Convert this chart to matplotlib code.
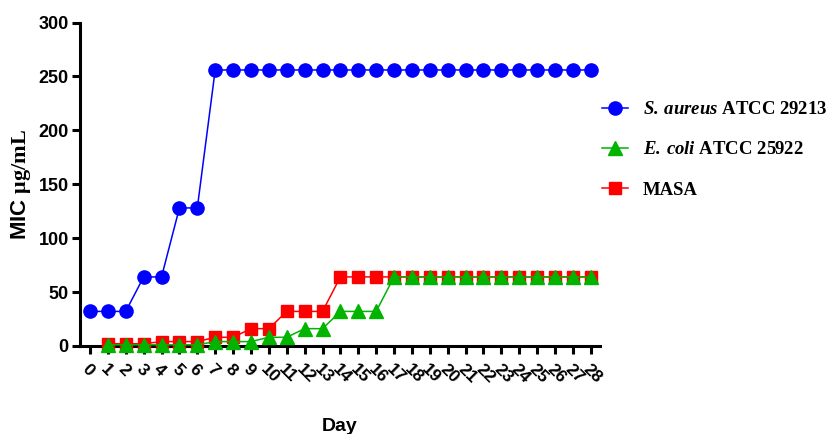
import matplotlib
matplotlib.use("Agg")
import matplotlib.pyplot as plt

days_sa = list(range(0, 29))
mic_sa = [32, 32, 32, 64, 64, 128, 128] + [256] * 22

days_ec = list(range(1, 29))
mic_ec = [1, 1, 1, 1, 1, 1, 4, 4, 4, 8, 8, 16, 16, 32, 32, 32] + [64] * 12

days_masa = list(range(1, 29))
mic_masa = [2, 2, 2, 4, 4, 4, 8, 8, 16, 16, 32, 32, 32] + [64] * 15

xtick_labels = [str(d) for d in range(0, 29)]
yticks = [0, 50, 100, 150, 200, 250, 300]

plt.rcParams['mathtext.fontset'] = 'custom'
plt.rcParams['mathtext.rm'] = 'Liberation Serif'
plt.rcParams['mathtext.bf'] = 'Liberation Serif:bold'
plt.rcParams['mathtext.it'] = 'Liberation Serif:italic'
plt.rcParams['mathtext.bfit'] = 'Liberation Serif:italic:bold'

fig = plt.figure(figsize=(8.33, 4.34), dpi=100)
ax = fig.add_axes([0.096, 0.203, 0.624, 0.745])

ax.plot(days_sa, mic_sa, color='#0000FF', lw=1.1, marker='o', ms=9.5,
        clip_on=False, zorder=3, label=r'$\mathbfit{S.\:aureus}$ ATCC 29213')
ax.plot(days_ec, mic_ec, color='#00B400', lw=1.1, marker='^', ms=10,
        clip_on=False, zorder=5, label=r'$\mathbfit{E.\:coli}$ ATCC 25922')
ax.plot(days_masa, mic_masa, color='#FF0000', lw=1.1, marker='s', ms=9,
        clip_on=False, zorder=4, label='MASA')

ax.set_xlim(-0.56, 28.5)
ax.set_ylim(0, 300)
ax.set_xticks(range(0, 29))
ax.set_xticklabels(xtick_labels, rotation=-45, ha='left', va='top',
                   rotation_mode='anchor', fontsize=12.5, fontweight='bold',
                   family='Liberation Sans')
ax.set_yticks(yticks)
ax.set_yticklabels([str(v) for v in yticks], fontsize=13, fontweight='bold',
                   family='Liberation Sans')

for s in ['top', 'right']:
    ax.spines[s].set_visible(False)
for s in ['left', 'bottom']:
    ax.spines[s].set_linewidth(2.2)
ax.tick_params(axis='both', width=2.2, length=6, direction='out')
ax.tick_params(axis='x', pad=5)
ax.tick_params(axis='y', pad=2)

ax.set_xlabel('Day', fontsize=14, fontweight='bold', family='Liberation Sans',
              labelpad=23)
ax.set_ylabel(r'MIC $\mathbf{\mu g/mL}$', fontsize=16, fontweight='bold',
              family='Liberation Sans', labelpad=4)

leg = fig.legend(loc='upper left', bbox_to_anchor=(0.702, 0.806),
                 frameon=False, handlelength=1.39, handletextpad=0.8,
                 labelspacing=1.23,
                 prop={'family': 'Liberation Serif', 'weight': 'bold', 'size': 13.5})

fig.savefig('out.png', dpi=100)
